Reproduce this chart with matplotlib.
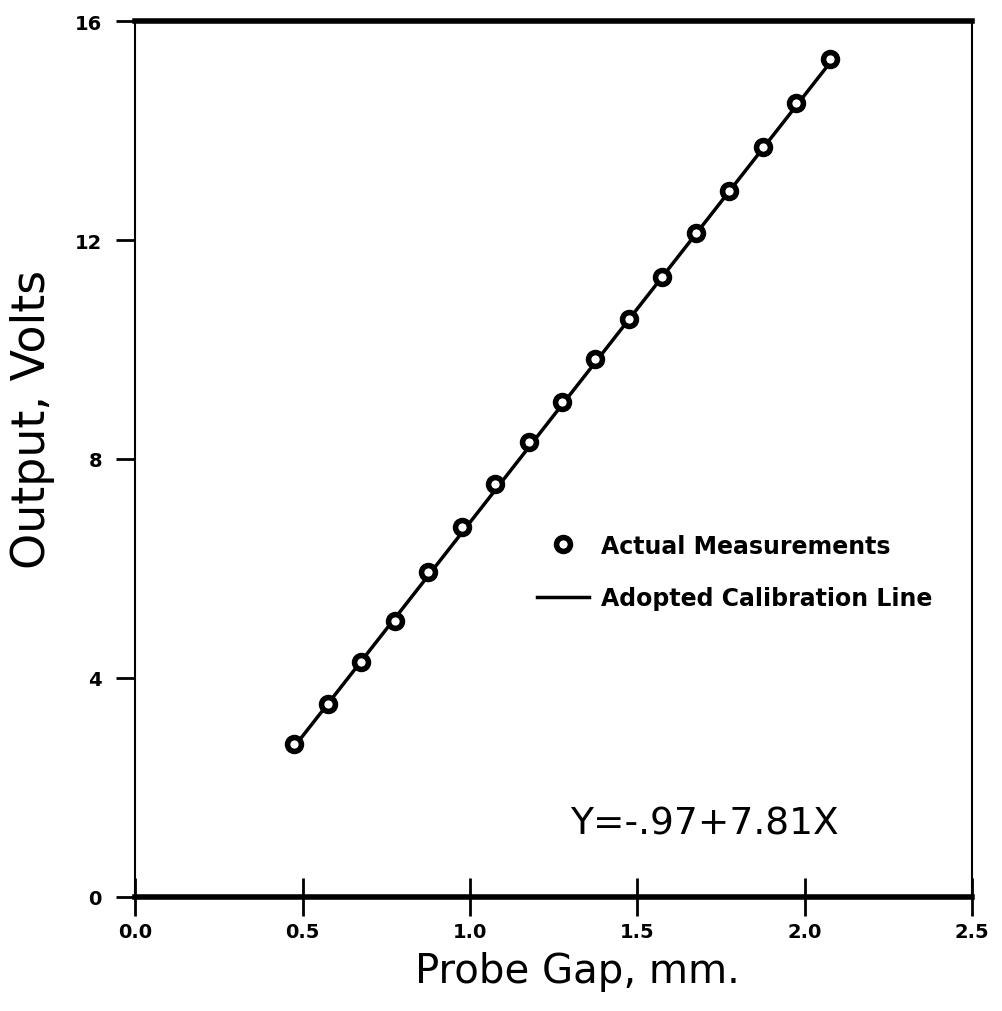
import numpy as np
import matplotlib
matplotlib.use('Agg')
from matplotlib import pyplot as plt

gap = np.array([0.475, 0.575, 0.675, 0.775, 0.875, 0.975, 1.075, 1.175, 1.275,
                1.375, 1.475, 1.575, 1.675, 1.775, 1.875, 1.975, 2.075])
volts = np.array([2.79, 3.53, 4.29, 5.04, 5.94, 6.76, 7.54, 8.31, 9.04,
                  9.83, 10.56, 11.32, 12.13, 12.89, 13.70, 14.50, 15.31])
intercept, slope = -0.97, 7.81
xticks = [0.0, 0.5, 1.0, 1.5, 2.0, 2.5]
xtick_labels = ["0.0", "0.5", "1.0", "1.5", "2.0", "2.5"]
yticks = [0, 4, 8, 12, 16]

fig = plt.figure(figsize=(10.02, 10.12), dpi=100)
ax = fig.add_axes([0.135, 0.113, 0.835, 0.865])

xfit = np.array([gap[0], gap[-1]])
ax.plot(xfit, intercept + slope * xfit, color="black", lw=2.5,
        label="Adopted Calibration Line", zorder=2)
ax.plot(gap, volts, ls="none", marker="o", ms=10, mfc="white", mec="black",
        mew=4, label="Actual Measurements", zorder=3)

ax.set_xlim(0, 2.5)
ax.set_ylim(0, 16)
ax.set_xticks(xticks)
ax.set_xticklabels(xtick_labels, fontweight="bold", fontsize=14)
ax.set_yticks(yticks)
ax.set_yticklabels([str(v) for v in yticks], fontweight="bold", fontsize=14)
ax.tick_params(axis="x", direction="inout", length=28, width=2, pad=4)
ax.tick_params(axis="y", direction="out", length=14, width=2, pad=10)

for side in ["top", "bottom"]:
    ax.spines[side].set_linewidth(4)
for side in ["left", "right"]:
    ax.spines[side].set_linewidth(1.5)

ax.set_xlabel("Probe Gap, mm.", fontsize=29)
ax.xaxis.set_label_coords(0.528, -0.062)
ax.set_ylabel("Output, Volts", fontsize=33)
ax.yaxis.set_label_coords(-0.096, 0.546)

handles, labels = ax.get_legend_handles_labels()
ax.legend(handles[::-1], labels[::-1], loc="center left",
          bbox_to_anchor=(0.455, 0.371), frameon=False, numpoints=1,
          handlelength=2.2, handletextpad=0.5, labelspacing=1.2,
          prop={"weight": "bold", "size": 17})

ax.text(0.68, 0.083, "Y=-.97+7.81X", transform=ax.transAxes, fontsize=27,
        ha="center", va="center")

plt.savefig("out.png", dpi=100)
plt.close()
